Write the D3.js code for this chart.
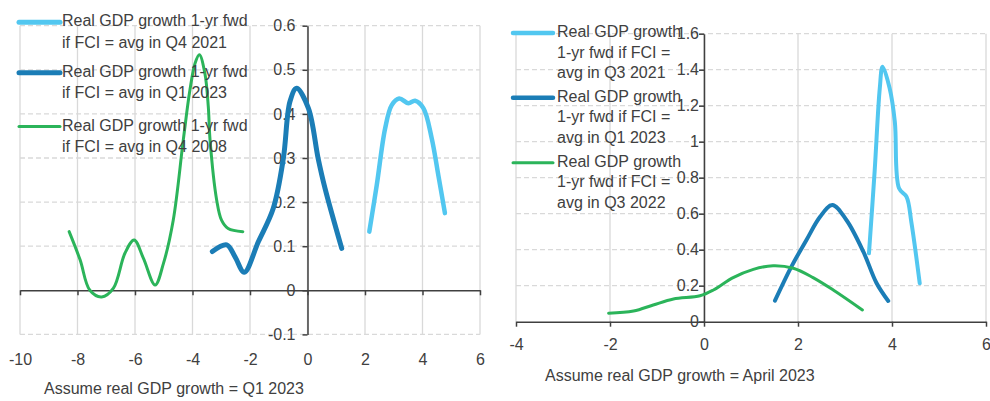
<!DOCTYPE html>
<html>
<head>
<meta charset="utf-8">
<script src="https://cdn.jsdelivr.net/npm/d3@7"></script>
<style>
  html, body { margin: 0; padding: 0; background: #fff; }
  svg { display: block; font-family: "Liberation Sans", Arial, sans-serif; }
  text { fill: #404040; font-size: 16px; }
</style>
</head>
<body>
<svg id="chart" width="990" height="401"></svg>
<script>
// ---------- DATA ----------
// Left panel: Assume real GDP growth = Q1 2023
const leftXTicks = [-10, -8, -6, -4, -2, 0, 2, 4, 6];
const leftXTickLabels = ["-10", "-8", "-6", "-4", "-2", "0", "2", "4", "6"];
const leftYTicks = [-0.1, 0, 0.1, 0.2, 0.3, 0.4, 0.5, 0.6];
const leftYTickLabels = ["-0.1", "0", "0.1", "0.2", "0.3", "0.4", "0.5", "0.6"];
const leftXLabel = "Assume real GDP growth = Q1 2023";

const leftQ42021X = [2.15, 2.41, 2.70, 2.93, 3.19, 3.51, 3.74, 4.03, 4.32, 4.55, 4.78];
const leftQ42021Y = [0.133, 0.239, 0.367, 0.420, 0.435, 0.424, 0.430, 0.413, 0.345, 0.261, 0.175];

const leftQ12023X = [-3.31, -2.81, -2.52, -2.20, -1.71, -1.19, -0.84, -0.61, -0.38, 0.03, 0.37, 0.61, 1.19];
const leftQ12023Y = [0.088, 0.103, 0.076, 0.041, 0.110, 0.186, 0.299, 0.428, 0.458, 0.413, 0.299, 0.231, 0.095];

const leftQ42008X = [-8.29, -7.91, -7.57, -7.16, -6.75, -6.35, -6.03, -5.71, -5.30, -5.01, -4.67, -4.32, -4.09, -3.91, -3.76, -3.57, -3.45, -3.39, -3.16, -2.99, -2.76, -2.25];
const leftQ42008Y = [0.133, 0.069, 0.0, -0.015, 0.005, 0.084, 0.114, 0.073, 0.012, 0.061, 0.159, 0.341, 0.454, 0.515, 0.534, 0.492, 0.416, 0.341, 0.205, 0.159, 0.140, 0.133];

const leftLegend = [
  ["Real GDP growth 1-yr fwd", "if FCI = avg in Q4 2021"],
  ["Real GDP growth 1-yr fwd", "if FCI = avg in Q1 2023"],
  ["Real GDP growth 1-yr fwd", "if FCI = avg in Q4 2008"]
];

// Right panel: Assume real GDP growth = April 2023
const rightXTicks = [-4, -2, 0, 2, 4, 6];
const rightXTickLabels = ["-4", "-2", "0", "2", "4", "6"];
const rightYTicks = [0, 0.2, 0.4, 0.6, 0.8, 1.0, 1.2, 1.4, 1.6];
const rightYTickLabels = ["0", "0.2", "0.4", "0.6", "0.8", "1", "1.2", "1.4", "1.6"];
const rightXLabel = "Assume real GDP growth = April 2023";

const rightQ32021X = [3.51, 3.63, 3.74, 3.80, 3.95, 4.06, 4.15, 4.31, 4.41, 4.59];
const rightQ32021Y = [0.38, 0.833, 1.297, 1.417, 1.297, 1.111, 0.741, 0.694, 0.556, 0.213];

const rightQ12023X = [1.51, 1.86, 2.18, 2.47, 2.73, 3.03, 3.39, 3.67, 3.92];
const rightQ12023Y = [0.117, 0.306, 0.454, 0.583, 0.648, 0.565, 0.389, 0.215, 0.115];

const rightQ32022X = [-2.03, -1.50, -1.08, -0.65, -0.085, 0.20, 0.62, 1.05, 1.47, 1.90, 2.32, 2.75, 3.37];
const rightQ32022Y = [0.047, 0.059, 0.093, 0.126, 0.144, 0.176, 0.245, 0.291, 0.311, 0.297, 0.245, 0.176, 0.065];

const rightLegend = [
  ["Real GDP growth", "1-yr fwd if FCI =", "avg in Q3 2021"],
  ["Real GDP growth", "1-yr fwd if FCI =", "avg in Q1 2023"],
  ["Real GDP growth", "1-yr fwd if FCI =", "avg in Q3 2022"]
];

// ---------- STYLE ----------
const LIGHT = "#52c7f0", DARK = "#1b7db6", GREEN = "#2bb45a";
const GRID = "#d9d9d9", AXIS = "#404040";

const svg = d3.select("#chart");

function zip(xs, ys) { return xs.map((x, i) => [x, ys[i]]); }

function panel(cfg) {
  const g = svg.append("g");
  const x = d3.scaleLinear().domain(cfg.xDomain).range(cfg.xRange);
  const y = d3.scaleLinear().domain(cfg.yDomain).range(cfg.yRange);

  // vertical solid grid
  g.append("g").selectAll("line").data(cfg.xTicks).join("line")
    .attr("x1", d => x(d)).attr("x2", d => x(d))
    .attr("y1", cfg.yRange[1]).attr("y2", cfg.yRange[0])
    .attr("stroke", GRID).attr("stroke-width", 1.3);
  // horizontal dashed grid
  g.append("g").selectAll("line").data(cfg.yTicks.filter(v => v !== 0)).join("line")
    .attr("x1", cfg.xRange[0]).attr("x2", cfg.xRange[1])
    .attr("y1", d => y(d)).attr("y2", d => y(d))
    .attr("stroke", GRID).attr("stroke-width", 1.3).attr("stroke-dasharray", "5,3");

  // x axis line at y=0 with ticks (no labels)
  const xAxis = d3.axisBottom(x).tickValues(cfg.xTicks).tickSize(5).tickSizeOuter(0).tickFormat("");
  const gx = g.append("g").attr("transform", `translate(0,${y(0)})`).call(xAxis);
  gx.selectAll("path,line").attr("stroke", AXIS).attr("stroke-width", 1.5);

  // x tick labels
  const xLab = d3.axisBottom(x).tickValues(cfg.xTicks).tickSize(0).tickPadding(0)
    .tickFormat((d, i) => cfg.xTickLabels[i]);
  const gxl = g.append("g").attr("transform", `translate(0,${cfg.xLabelY})`).call(xLab);
  gxl.select(".domain").remove();
  gxl.selectAll("text").attr("dy", 0).attr("y", 0).attr("fill", AXIS)
    .style("font-size", "16px").style("font-family", '"Liberation Sans", Arial, sans-serif');

  // y axis at x=0
  const yAxis = d3.axisLeft(y).tickValues(cfg.yTicks).tickSize(5).tickSizeOuter(0)
    .tickPadding(cfg.yPad).tickFormat((d, i) => cfg.yTickLabels[i]);
  const gy = g.append("g").attr("transform", `translate(${x(0)},0)`).call(yAxis);
  gy.selectAll("path,line").attr("stroke", AXIS).attr("stroke-width", 1.5);
  gy.selectAll("text").attr("fill", AXIS)
    .style("font-size", "16px").style("font-family", '"Liberation Sans", Arial, sans-serif');

  // series
  const line = d3.line().x(d => x(d[0])).y(d => y(d[1])).curve(d3.curveCatmullRom.alpha(0.5));
  cfg.series.forEach(s => {
    g.append("path").datum(s.pts).attr("d", line)
      .attr("fill", "none").attr("stroke", s.color).attr("stroke-width", s.w)
      .attr("stroke-linecap", "round").attr("stroke-linejoin", "round");
  });

  // axis title
  g.append("text").attr("x", cfg.titleX).attr("y", cfg.titleY).text(cfg.title);

  // legend
  const lg = g.append("g");
  cfg.series.forEach((s, i) => {
    const ly = cfg.legendY[i];
    lg.append("line").attr("x1", cfg.legendX[0]).attr("x2", cfg.legendX[1])
      .attr("y1", ly).attr("y2", ly).attr("stroke", s.color).attr("stroke-width", s.lw)
      .attr("stroke-linecap", "round");
    const t = lg.append("text").attr("x", cfg.legendX[2]).attr("y", ly + 4);
    s.label.forEach((ln, j) => {
      t.append("tspan").attr("x", cfg.legendX[2]).attr("dy", j === 0 ? 0 : cfg.legendLH).text(ln);
    });
  });
}

panel({
  xDomain: [-10, 6], xRange: [20, 480],
  yDomain: [-0.1, 0.6], yRange: [334.4, 25.7],
  xTicks: leftXTicks, xTickLabels: leftXTickLabels,
  yTicks: leftYTicks, yTickLabels: leftYTickLabels, yPad: 7,
  xLabelY: 365, title: leftXLabel, titleX: 44, titleY: 394,
  series: [
    { pts: zip(leftQ42021X, leftQ42021Y), color: LIGHT, w: 4.5, lw: 5, label: leftLegend[0] },
    { pts: zip(leftQ12023X, leftQ12023Y), color: DARK, w: 5, lw: 5, label: leftLegend[1] },
    { pts: zip(leftQ42008X, leftQ42008Y), color: GREEN, w: 3, lw: 3, label: leftLegend[2] }
  ],
  legendX: [19, 60, 62], legendY: [22.3, 72.7, 126.5], legendLH: 21.7
});

panel({
  xDomain: [-4, 6], xRange: [516, 986],
  yDomain: [0, 1.6], yRange: [321.7, 33.7],
  xTicks: rightXTicks, xTickLabels: rightXTickLabels,
  yTicks: rightYTicks, yTickLabels: rightYTickLabels, yPad: 0,
  xLabelY: 350, title: rightXLabel, titleX: 545, titleY: 381,
  series: [
    { pts: zip(rightQ32021X, rightQ32021Y), color: LIGHT, w: 4, lw: 4.5, label: rightLegend[0] },
    { pts: zip(rightQ12023X, rightQ12023Y), color: DARK, w: 4, lw: 4.5, label: rightLegend[1] },
    { pts: zip(rightQ32022X, rightQ32022Y), color: GREEN, w: 3, lw: 3, label: rightLegend[2] }
  ],
  legendX: [513, 553, 557], legendY: [33, 97.7, 162.7], legendLH: 20.7
});
</script>
</body>
</html>
